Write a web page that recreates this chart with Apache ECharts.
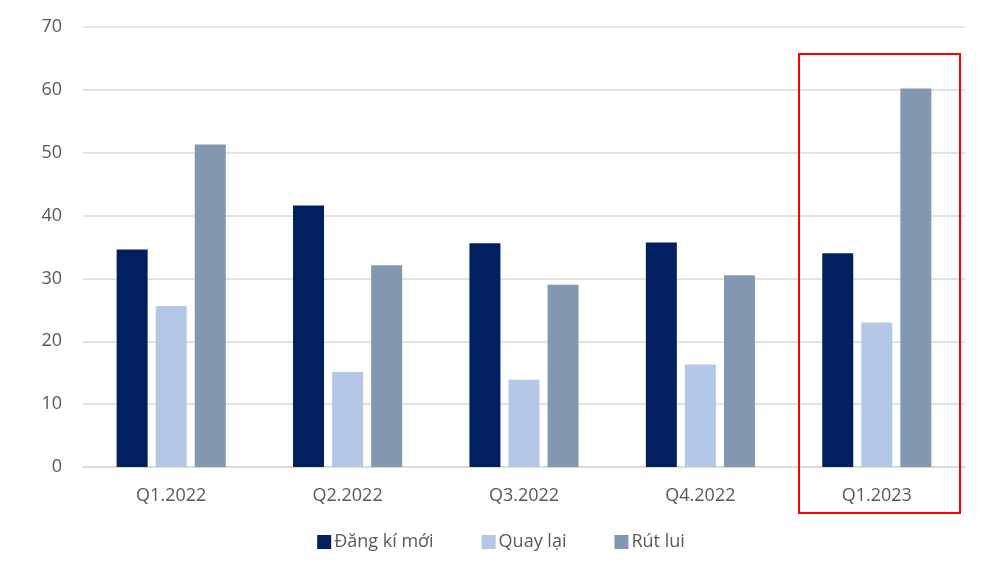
<!DOCTYPE html>
<html>
<head>
<meta charset="utf-8">
<script src="https://cdn.jsdelivr.net/npm/echarts@6/dist/echarts.min.js"></script>
<style>
html, body { margin: 0; padding: 0; background: #fff; }
#chartDiv { width: 1002px; height: 570px; }
</style>
</head>
<body>
<div id="chartDiv"></div>
<script>
var categories = ['Q1.2022', 'Q2.2022', 'Q3.2022', 'Q4.2022', 'Q1.2023'];
var dangKiMoi = [34.6, 41.6, 35.6, 35.7, 34.0];
var quayLai = [25.6, 15.1, 13.9, 16.3, 23.0];
var rutLui = [51.3, 32.1, 29.0, 30.5, 60.2];

var textColor = '#595959';
var fontFamily = '"Open Sans", "Noto Sans", sans-serif';

var myChart = echarts.init(document.getElementById('chartDiv'));

function barSeries(name, data, color) {
    return {
        name: name,
        type: 'bar',
        data: data,
        barWidth: 31,
        barGap: '26%',
        itemStyle: { color: color }
    };
}

myChart.setOption({
    animation: false,
    textStyle: { fontFamily: fontFamily },
    grid: { left: 83, right: 37, top: 27, bottom: 103 },
    legend: {
        bottom: 14,
        left: 'center',
        itemWidth: 14,
        itemHeight: 14,
        itemGap: 48,
        icon: 'rect',
        textStyle: { color: textColor, fontSize: 18, fontFamily: fontFamily, padding: [0, 0, 0, -2] }
    },
    xAxis: {
        type: 'category',
        data: categories,
        axisLine: { lineStyle: { color: '#d9d9d9', width: 1.5 } },
        axisTick: { show: false },
        axisLabel: { color: textColor, fontSize: 18, margin: 20 }
    },
    yAxis: {
        type: 'value',
        min: 0,
        max: 70,
        interval: 10,
        axisLine: { show: false },
        axisTick: { show: false },
        axisLabel: { color: textColor, fontSize: 18, margin: 21 },
        splitLine: { lineStyle: { color: '#d9d9d9', width: 1.5 } }
    },
    series: [
        barSeries('Đăng kí mới', dangKiMoi, '#002060'),
        barSeries('Quay lại', quayLai, '#b4c7e7'),
        barSeries('Rút lui', rutLui, '#8497b0')
    ],
    graphic: [{
        type: 'rect',
        shape: { x: 799, y: 54, width: 161, height: 459 },
        style: { fill: 'none', stroke: '#ff0000', lineWidth: 2 },
        z: 100
    }]
});
</script>
</body>
</html>
